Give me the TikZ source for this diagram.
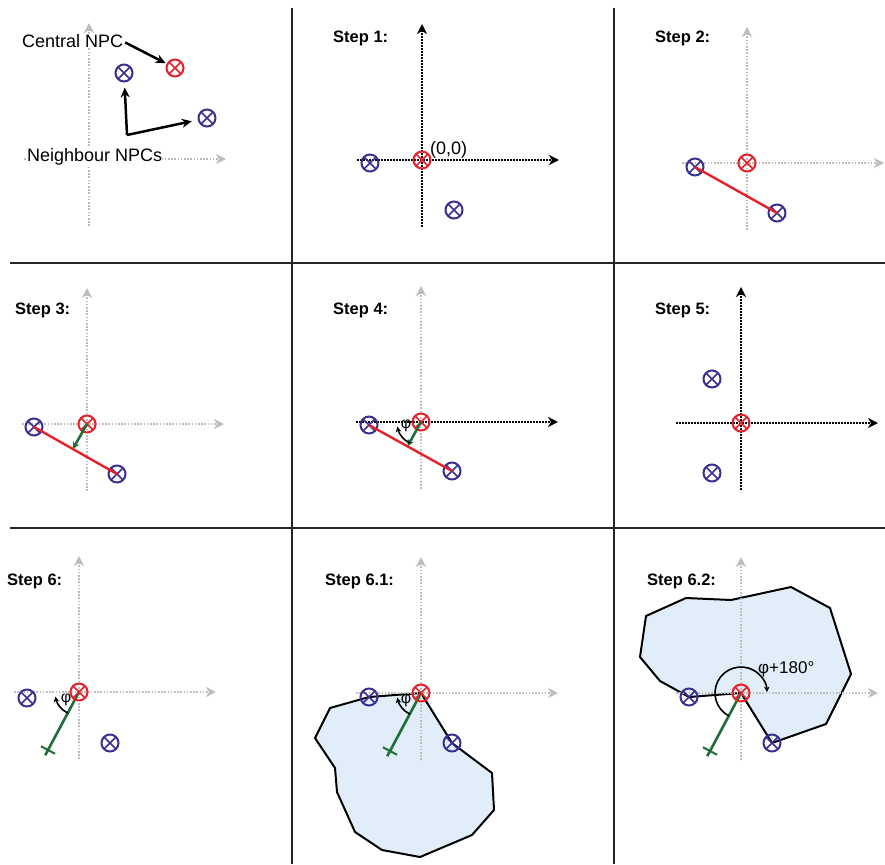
\documentclass[tikz,border=0pt]{standalone}
\usepackage{fontspec}
\setmainfont{Liberation Sans}
\usetikzlibrary{arrows.meta,calc}

\definecolor{npcred}{HTML}{E8202A}
\definecolor{npcblue}{HTML}{3B3091}
\definecolor{vecgreen}{HTML}{1E6E35}
\definecolor{axisgray}{HTML}{BDBDBD}
\definecolor{regionfill}{HTML}{E1EEFA}

% coordinate axes of one panel: #1 prefix, (#2,#3) origin, #4/#5 styles
\newcommand\panelaxes[5]{%
  \coordinate (#1-vs) at (#2,#3+67);
  \coordinate (#1-ve) at (#2,#3-136);
  \coordinate (#1-hs) at (#2-65,#3);
  \coordinate (#1-he) at (#2+137,#3);
  \draw[#4] (#1-vs) -- (#1-ve);
  \draw[#5] (#1-hs) -- (#1-he);
}

\begin{document}
\begin{tikzpicture}[x=1pt,y=-1pt,
  npc/.style={circle, draw=#1, line width=2pt, minimum size=17pt, inner sep=0pt,
    path picture={\draw[#1, line width=1.7pt]
      (path picture bounding box.north west) -- (path picture bounding box.south east)
      (path picture bounding box.north east) -- (path picture bounding box.south west);}},
  cnpc/.style={npc=npcred},
  nnpc/.style={npc=npcblue},
  steplabel/.style={anchor=base west, inner sep=0pt, font=\bfseries\fontsize{16.5}{18}\selectfont},
  labeltext/.style={anchor=base west, inner sep=0pt, font=\fontsize{18}{20}\selectfont},
  philabel/.style={inner sep=0pt, font=\fontsize{16}{17}\selectfont},
  grayaxis/.style={axisgray, line width=2pt, dash pattern=on 1.6pt off 1.6pt,
    -{Stealth[length=10pt,width=10pt,inset=3pt]}},
  blackaxis/.style={black, line width=2.1pt, dash pattern=on 1.7pt off 1.3pt,
    -{Stealth[length=10pt,width=10pt,inset=3pt]}},
  panelrule/.style={black!85, line width=2.8pt},
  pairline/.style={npcred, line width=2.4pt},
  greenvec/.style={vecgreen, line width=2.6pt, -{Stealth[length=7pt,width=7pt]}},
  greenline/.style={vecgreen, line width=2.6pt},
  callout/.style={black, line width=2.5pt, -{Stealth[length=10pt,width=9pt]}},
  anglearc/.style={black, line width=1.6pt, -{Stealth[length=5.5pt,width=5.5pt]}},
  region/.style={draw=black, line width=2pt, fill=regionfill, line join=round},
]
\fill[white] (0,0) rectangle (885,864);
\useasboundingbox (0,0) rectangle (885,864);

% panel separators
\draw[panelrule] (10,263) -- (885,263);
\draw[panelrule] (10,528) -- (885,528);
\draw[panelrule] (292,8) -- (292,864);
\draw[panelrule] (614,8) -- (614,864);

% ---------- legend ----------
\panelaxes{a1}{89}{159}{grayaxis}{grayaxis}
\node[cnpc] (p1c) at (175,68) {};
\node[nnpc] (p1n1) at (124,73) {};
\node[nnpc] (p1n2) at (207,118) {};
\node[labeltext, fill=white] (lblc) at (22,48) {Central NPC};
\node[labeltext, fill=white] (lbln) at (27,161) {Neighbour NPCs};
\draw[callout, shorten <=2pt, shorten >=1pt] (lblc.east) -- (p1c);
\coordinate (fork) at (127,135);
\draw[callout, shorten >=5pt] (fork) -- (p1n1);
\draw[callout, shorten >=6pt] (fork) -- (p1n2);

% ---------- Step 1 ----------
\node[steplabel] (s1) at (333,43) {Step 1:};
\panelaxes{a2}{422}{160}{blackaxis}{blackaxis}
\node[cnpc] (p2c) at (422,160) {};
\node[nnpc] (p2n1) at (370,163) {};
\node[nnpc] (p2n2) at (454,210) {};
\node[labeltext] (p2o) at (430,154) {(0,0)};

% ---------- Step 2 ----------
\node[steplabel] (s2) at (655,43) {Step 2:};
\panelaxes{a3}{747}{163}{grayaxis}{grayaxis}
\node[cnpc] (p3c) at (747,163) {};
\node[nnpc] (p3n1) at (695,167) {};
\node[nnpc] (p3n2) at (777,213) {};
\draw[pairline] (p3n1.center) -- (p3n2.center);

% ---------- Step 3 ----------
\node[steplabel] (s3) at (15,314) {Step 3:};
\panelaxes{a4}{87}{424}{grayaxis}{grayaxis}
\node[cnpc] (p4c) at (87,424) {};
\node[nnpc] (p4n1) at (34,427) {};
\node[nnpc] (p4n2) at (117,474) {};
\draw[pairline] (p4n1.center) -- (p4n2.center);
\coordinate (p4f) at (72.8,449);
\draw[greenvec] (p4c.center) -- (p4f);

% ---------- Step 4 ----------
\node[steplabel] (s4) at (333,314) {Step 4:};
\panelaxes{a5}{421}{422}{grayaxis}{blackaxis}
\node[cnpc] (p5c) at (421,422) {};
\node[nnpc] (p5n1) at (369,425) {};
\node[nnpc] (p5n2) at (452,471) {};
\draw[pairline] (p5n1.center) -- (p5n2.center);
\coordinate (p5f) at (407.5,446.3);
\draw[greenvec] (p5c.center) -- (p5f);
\draw[anglearc] ($(p5c.center)+(118:24)$) arc[start angle=118, end angle=169, radius=24];
\node[philabel] (p5phi) at (406,426) {φ};

% ---------- Step 5 ----------
\node[steplabel] (s5) at (655,314) {Step 5:};
\panelaxes{a6}{741}{423}{blackaxis}{blackaxis}
\node[cnpc] (p6c) at (741,423) {};
\node[nnpc] (p6n1) at (712,379) {};
\node[nnpc] (p6n2) at (712,473) {};

% ---------- Step 6 ----------
\node[steplabel] (s6) at (7,585) {Step 6:};
\panelaxes{a7}{79}{692}{grayaxis}{grayaxis}
\coordinate (p7e) at (48,750);
\draw[greenline] (79,692) -- ($(79,692)!1.09!(p7e)$);
\draw[greenline, line width=2pt] ($(p7e)!8pt!90:(79,692)$) -- ($(p7e)!8pt!-90:(79,692)$);
\node[cnpc] (p7c) at (79,692) {};
\node[nnpc] (p7n1) at (27,698) {};
\node[nnpc] (p7n2) at (110,743) {};
\draw[anglearc] ($(p7c.center)+(118:24)$) arc[start angle=118, end angle=169, radius=24];
\node[philabel] (p7phi) at (66,700) {φ};

% ---------- Step 6.1 ----------
\node[steplabel] (s61) at (325,585) {Step 6.1:};
\coordinate (r8) at (421,693);
\coordinate (u8) at (369,697);
\coordinate (v8) at (452,743);
\draw[region] (r8) -- (v8) -- (492,773) -- (494,810) -- (472,835) -- (420,857)
  -- (382,850) -- (355,832) -- (337,792) -- (335,768) -- (315,738) -- (330,708)
  -- (u8) -- cycle;
\panelaxes{a8}{421}{693}{grayaxis}{grayaxis}
\coordinate (p8e) at (390,751);
\draw[greenline] (r8) -- ($(r8)!1.09!(p8e)$);
\draw[greenline, line width=2pt] ($(p8e)!8pt!90:(r8)$) -- ($(p8e)!8pt!-90:(r8)$);
\node[cnpc] (p8c) at (r8) {};
\node[nnpc] (p8n1) at (u8) {};
\node[nnpc] (p8n2) at (v8) {};
\draw[anglearc] ($(p8c.center)+(118:24)$) arc[start angle=118, end angle=169, radius=24];
\node[philabel] (p8phi) at (406,701) {φ};

% ---------- Step 6.2 ----------
\node[steplabel] (s62) at (647,585) {Step 6.2:};
\coordinate (r9) at (741,693);
\coordinate (u9) at (689,697);
\coordinate (v9) at (772,743);
\draw[region] (r9) -- (v9) -- (826,724) -- (851,674) -- (830,608) -- (791,587)
  -- (731,600) -- (686,598) -- (646,616) -- (640,657) -- (660,681)
  -- (u9) -- cycle;
\panelaxes{a9}{741}{693}{grayaxis}{grayaxis}
\coordinate (p9e) at (710,751);
\draw[greenline] (r9) -- ($(r9)!1.09!(p9e)$);
\draw[greenline, line width=2pt] ($(p9e)!8pt!90:(r9)$) -- ($(p9e)!8pt!-90:(r9)$);
\node[cnpc] (p9c) at (r9) {};
\node[nnpc] (p9n1) at (u9) {};
\node[nnpc] (p9n2) at (v9) {};
\draw[anglearc] ($(p9c.center)+(118:26)$) arc[start angle=118, end angle=358, radius=26];
\node[labeltext, font=\fontsize{17}{19}\selectfont] (p9lbl) at (758,673) {φ+180°};
\end{tikzpicture}
\end{document}
